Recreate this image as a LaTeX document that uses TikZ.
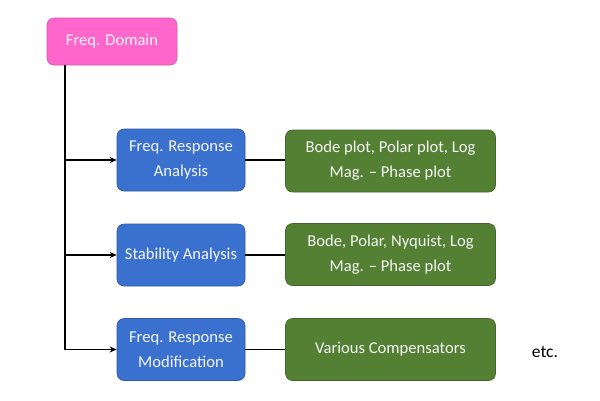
\documentclass[tikz,border=0pt]{standalone}
\usepackage{fontspec}
\setmainfont{Carlito}
\usetikzlibrary{arrows.meta}
\tikzset{>=stealth}
\definecolor{domainpink}{RGB}{255,102,204}
\definecolor{taskblue}{RGB}{58,112,206}
\definecolor{toolgreen}{RGB}{84,128,52}
\tikzset{
  basebox/.style={rounded corners=7pt, align=center, inner sep=2pt,
    font=\fontsize{16.6}{25}\selectfont, text=white!96!black, line width=0.6pt},
  domainbox/.style={basebox, fill=domainpink, draw=domainpink!85!black,
    minimum width=130pt, minimum height=47pt},
  taskbox/.style={basebox, fill=taskblue, draw=taskblue!80!black,
    minimum width=128pt, minimum height=62pt},
  toolbox/.style={basebox, fill=toolgreen, draw=toolgreen!80!black,
    minimum width=210pt, minimum height=62pt},
  link/.style={line width=1.6pt, black, >={Stealth[length=7pt,width=6pt]}}
}
\begin{document}
\begin{tikzpicture}[x=1pt,y=-1pt]
    \useasboundingbox (0,0) rectangle (600,400);
    \node[domainbox] (dom) at (112,41.5) {Freq. Domain};
    \node[taskbox] (resp) at (181,160) {Freq. Response\\Analysis};
    \node[taskbox] (stab) at (181,255) {Stability Analysis};
    \node[taskbox] (mod) at (181,349.5) {Freq. Response\\Modification};
    \node[toolbox] (plots) at (390.5,161) {Bode plot, Polar plot, Log\\Mag. -- Phase plot};
    \node[toolbox] (nyq) at (390.5,254.5) {Bode, Polar, Nyquist, Log\\Mag. -- Phase plot};
    \node[toolbox] (comp) at (390.5,349.5) {Various Compensators};
    \node[font=\fontsize{17.5}{20}\selectfont] (etc) at (545,352) {etc.};
    \coordinate (trunk) at ([xshift=18pt]dom.south west);
    \draw[link,->] (trunk) |- (mod);
    \draw[link,->] (trunk |- resp) -- (resp);
    \draw[link,->] (trunk |- stab) -- (stab);
    \draw[link] (resp.east) -- (resp.east -| plots.west);
    \draw[link] (stab.east) -- (stab.east -| nyq.west);
    \draw[link] (mod.east) -- (mod.east -| comp.west);
\end{tikzpicture}
\end{document}
